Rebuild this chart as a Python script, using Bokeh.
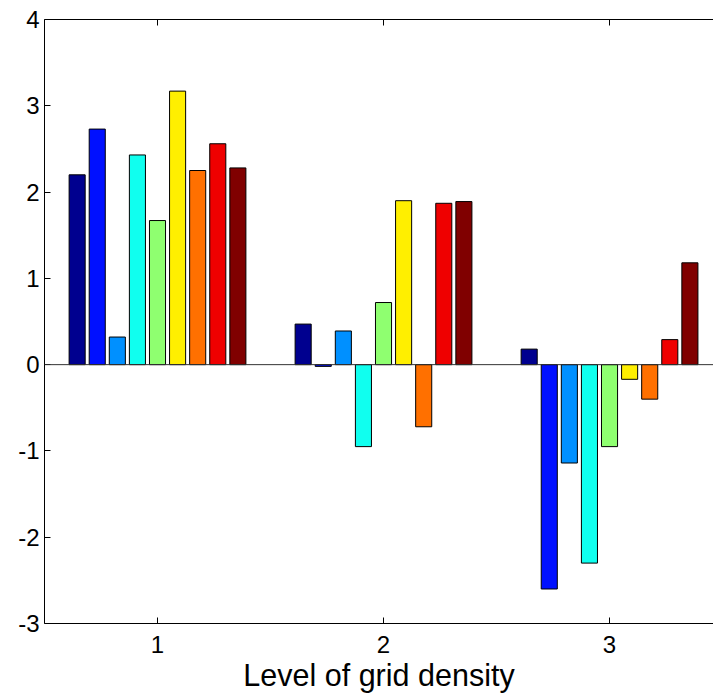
from bokeh.plotting import figure
from bokeh.models import Range1d, LinearAxis, FixedTicker, Span, PrintfTickFormatter, CustomJSTickFormatter
from bokeh.embed import file_html
from bokeh.resources import INLINE

# Groups along the x axis and one value per group for each of the nine series
groups = [1, 2, 3]
series_values = [
    [2.20, 0.47, 0.18],
    [2.73, -0.02, -2.60],
    [0.32, 0.39, -1.14],
    [2.43, -0.95, -2.30],
    [1.67, 0.72, -0.95],
    [3.17, 1.90, -0.17],
    [2.25, -0.72, -0.40],
    [2.56, 1.87, 0.29],
    [2.28, 1.89, 1.18],
]
series_colors = [
    "#00008F", "#0010FF", "#0090FF", "#10FFEF", "#8FFF70",
    "#FFEF00", "#FF7000", "#EF0000", "#800000",
]
x_ticks = [1, 2, 3]
y_ticks = [-3, -2, -1, 0, 1, 2, 3, 4]
x_label = "Level of grid density"

FONT = "Liberation Sans"

p = figure(
    width=713, height=695,
    x_range=Range1d(0.5, 3.46), y_range=Range1d(-3, 4),
    output_backend="svg", toolbar_location=None,
    min_border_left=44, min_border_right=0,
    min_border_top=19, min_border_bottom=72,
)
p.grid.visible = False
p.outline_line_color = None
p.background_fill_color = "white"
p.border_fill_color = "white"

# grouped bars: nine series side by side inside each group
n = len(series_values)
pitch = 0.8 / n
bar_w = pitch * 0.8
for i, (vals, col) in enumerate(zip(series_values, series_colors)):
    offset = (i - (n - 1) / 2) * pitch
    xs = [g + offset for g in groups]
    p.vbar(x=xs, top=vals, bottom=0, width=bar_w,
           fill_color=col, line_color="black", line_width=1)

# baseline at zero
p.add_layout(Span(location=0, dimension="width", line_color="#333333", line_width=1))

# bottom axis
p.xaxis.ticker = FixedTicker(ticks=x_ticks)
p.xaxis.axis_label = x_label
p.xaxis.axis_label_text_font = FONT
p.xaxis.axis_label_text_font_size = "30.5px"
p.xaxis.axis_label_text_font_style = "normal"
p.xaxis.axis_label_text_color = "black"
p.xaxis.axis_label_standoff = 2
p.xaxis.major_label_standoff = 12

# left axis
p.yaxis.ticker = FixedTicker(ticks=y_ticks)
p.yaxis.major_label_standoff = 5
p.yaxis.formatter = PrintfTickFormatter(format="%d")

for ax in (p.xaxis[0], p.yaxis[0]):
    ax.major_label_text_font = FONT
    ax.major_label_text_font_size = "24px"
    ax.major_label_text_color = "black"
    ax.axis_line_color = "black"
    ax.axis_line_width = 1
    ax.major_tick_in = 6
    ax.major_tick_out = 0
    ax.major_tick_line_color = "black"
    ax.minor_tick_line_color = None

# top edge of the box with its inward ticks, no labels
top_axis = LinearAxis(
    ticker=FixedTicker(ticks=x_ticks),
    formatter=CustomJSTickFormatter(code="return ''"),
    major_tick_in=6, major_tick_out=0,
    minor_tick_line_color=None,
    axis_line_color="black",
    major_label_standoff=0,
)
p.add_layout(top_axis, "above")

open("out.html", "w").write(file_html(p, INLINE))
